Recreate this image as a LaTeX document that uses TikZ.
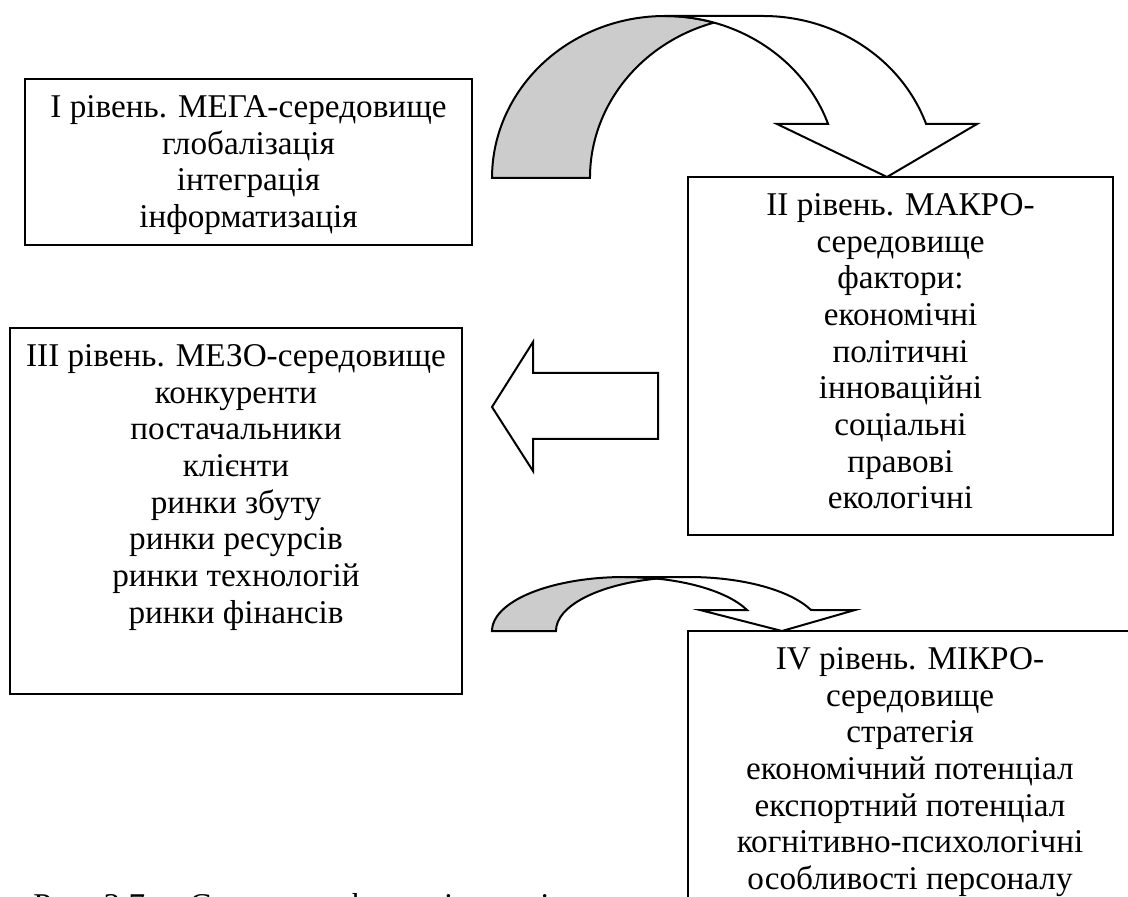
\documentclass[tikz,border=0pt]{standalone}
\usepackage{fontspec}
\setmainfont{Liberation Serif}
\usetikzlibrary{positioning}
\tikzset{
	levelbox/.style={draw, line width=1pt, fill=white, inner sep=0pt},
	leveltext/.style={align=center, inner sep=0pt, font=\fontsize{16.6}{18.35}\selectfont},
	frontband/.style={draw, line width=1pt, line join=miter, fill=white},
	backband/.style={draw, line width=1pt, fill=black!20}
}

\begin{document}
\begin{tikzpicture}[x=0.5pt, y=-0.5pt]
			%%%%% START %%%%%
			\useasboundingbox (0,0) rectangle (1128,897);
			\clip (0,0) rectangle (1128,897);
			
			% caption, cut off by the page
			\node[leveltext, anchor=base west] (caption) at (33,916) {Рис. 3.7. – Структура факторів зовнішнього середовища};
			
			% level boxes
			\node[levelbox, minimum width=223.5pt, minimum height=83pt] (mega) at (248.5,162) {};
			\node[levelbox, minimum width=212.5pt, minimum height=179pt] (macro) at (900.5,356) {};
			\node[levelbox, minimum width=226pt, minimum height=183pt] (mezo) at (236,511) {};
			\node[levelbox, minimum width=222pt, minimum height=159.5pt] (micro) at (910,790.5) {};
			
			\node[leveltext, below=8.5pt of mega.north] (megatext) {I рівень. МЕГА-середовище\\глобалізація\\інтеграція\\інформатизація};
			\node[leveltext, below=8.5pt of macro.north] (macrotext) {II рівень. МАКРО-\\середовище\\фактори:\\економічні\\політичні\\інноваційні\\соціальні\\правові\\екологічні};
			\node[leveltext, below=8.5pt of mezo.north] (mezotext) {III рівень. МЕЗО-середовище\\конкуренти\\постачальники\\клієнти\\ринки збуту\\ринки ресурсів\\ринки технологій\\ринки фінансів};
			\node[leveltext, below=8.5pt of micro.north] (microtext) {IV рівень. МІКРО-\\середовище\\стратегія\\економічний потенціал\\експортний потенціал\\когнітивно-психологічні\\особливості персоналу};
			
			% big curved arrow, mega -> macro
			\draw[backband] (492,178) arc[start angle=-180, end angle=-73.55, x radius=173, y radius=162]
				arc[start angle=-106.45, end angle=-180, x radius=173, y radius=162] -- cycle;
			\draw[frontband] (665,16) -- (763,16) arc[start angle=-90, end angle=-19.47, x radius=173, y radius=162]
				-- (977,124) -- (887,177) -- (777,124) -- (828.1,124)
				arc[start angle=-19.47, end angle=-90, x radius=173, y radius=162] -- cycle;
			
			% block arrow, macro -> mezo
			\draw[frontband] (492,407) -- (533,342) -- (533,373) -- (658,373) -- (658,439) -- (533,439) -- (533,471) -- cycle;
			
			% small curved arrow, mezo -> micro
			\draw[backband] (492,631) arc[start angle=-180, end angle=-76.05, x radius=132.7, y radius=54]
				arc[start angle=-103.95, end angle=-180, x radius=132.7, y radius=54] -- cycle;
			\draw[frontband] (624.7,577) -- (688.7,577) arc[start angle=-90, end angle=-22.89, x radius=132.7, y radius=54]
				-- (855,610) -- (782,631) -- (700,610) -- (747,610)
				arc[start angle=-22.89, end angle=-90, x radius=132.7, y radius=54] -- cycle;
			
			%%%%% END %%%%%
\end{tikzpicture}
\end{document}
